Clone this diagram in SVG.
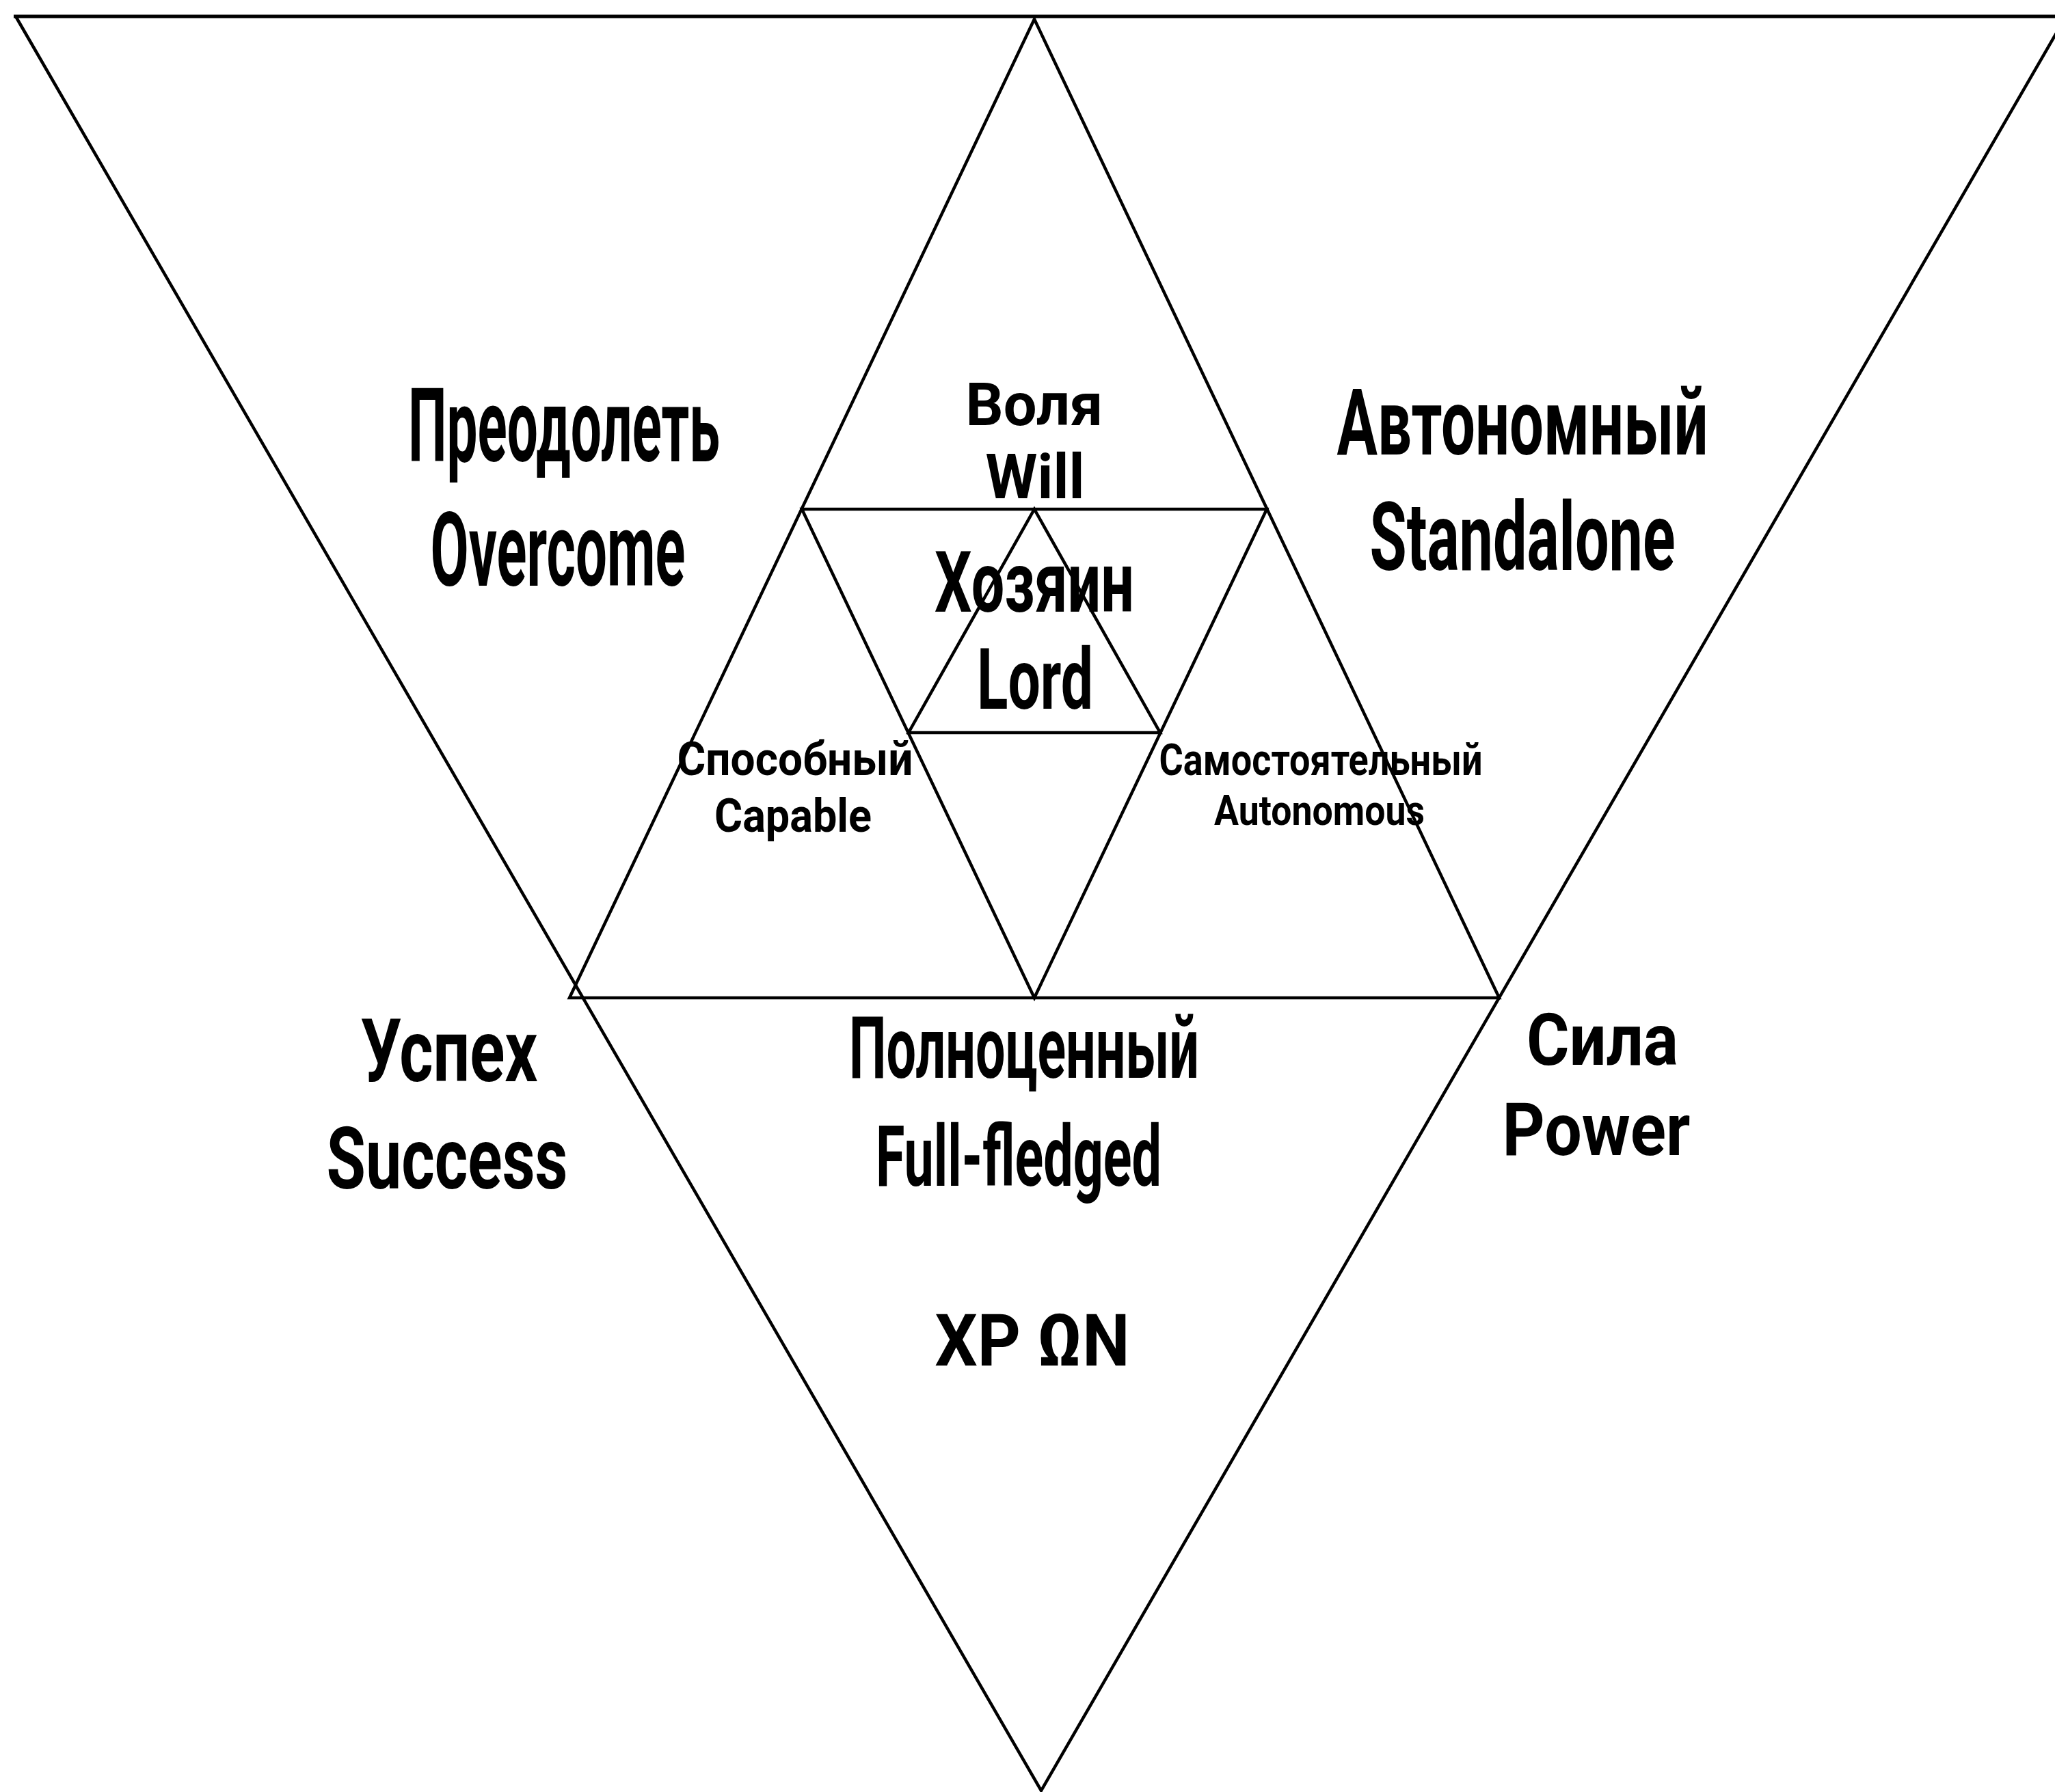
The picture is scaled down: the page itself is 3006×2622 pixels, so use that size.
<svg xmlns="http://www.w3.org/2000/svg" width="3006" height="2622" viewBox="0 0 3006 2622">
<style>
.ln{stroke:#000;stroke-width:4.5;fill:none;stroke-linejoin:miter}
.t{font-family:Roboto,"Liberation Sans","DejaVu Sans",sans-serif;font-weight:700;fill:#000;text-anchor:middle}
</style>
<rect width="3006" height="2622" fill="#fff"/>
<g id="lines">
<line class="ln" x1="20" y1="24" x2="3006" y2="24" style="stroke-width:5"/>
<polyline class="ln" points="23,24 1523,2620 3022,24"/>
<polygon class="ln" points="1513,28 2193,1460 833,1460"/>
<polygon class="ln" points="1173,745 1853,745 1513,1460"/>
<polygon class="ln" points="1513,745 1697,1072 1329,1072"/>
</g>
<g id="overcome">
<text class="t" x="825" y="675" font-size="150" textLength="456" lengthAdjust="spacingAndGlyphs">Преодолеть</text>
<text class="t" x="816" y="857" font-size="150" textLength="373" lengthAdjust="spacingAndGlyphs">Overcome</text>
</g>
<g id="will">
<text class="t" x="1513" y="622" font-size="88" textLength="201" lengthAdjust="spacingAndGlyphs">Воля</text>
<text class="t" x="1514" y="729" font-size="90" textLength="145" lengthAdjust="spacingAndGlyphs">Will</text>
</g>
<g id="standalone">
<text class="t" x="2227" y="665" font-size="135" textLength="543" lengthAdjust="spacingAndGlyphs">Автономный</text>
<text class="t" x="2227" y="834" font-size="140" textLength="447" lengthAdjust="spacingAndGlyphs">Standalone</text>
</g>
<g id="lord">
<text class="t" x="1513" y="895" font-size="125" textLength="292" lengthAdjust="spacingAndGlyphs">Хозяин</text>
<text class="t" x="1514" y="1037" font-size="125" textLength="170" lengthAdjust="spacingAndGlyphs">Lord</text>
</g>
<g id="capable">
<text class="t" x="1163" y="1134" font-size="68" textLength="345" lengthAdjust="spacingAndGlyphs">Способный</text>
<text class="t" x="1160" y="1217" font-size="68" textLength="230" lengthAdjust="spacingAndGlyphs">Capable</text>
</g>
<g id="autonomous">
<text class="t" x="1932" y="1134" font-size="64" textLength="473" lengthAdjust="spacingAndGlyphs">Самостоятельный</text>
<text class="t" x="1930" y="1207" font-size="62" textLength="308" lengthAdjust="spacingAndGlyphs">Autonomous</text>
</g>
<g id="success">
<text class="t" x="657" y="1582" font-size="128" textLength="259" lengthAdjust="spacingAndGlyphs">Успех</text>
<text class="t" x="654" y="1739" font-size="127" textLength="353" lengthAdjust="spacingAndGlyphs">Success</text>
</g>
<g id="fullfledged">
<text class="t" x="1498" y="1577" font-size="127" textLength="512" lengthAdjust="spacingAndGlyphs">Полноценный</text>
<text class="t" x="1490" y="1735" font-size="125" textLength="418" lengthAdjust="spacingAndGlyphs">Full-fledged</text>
</g>
<g id="power">
<text class="t" x="2344" y="1558" font-size="105" textLength="222" lengthAdjust="spacingAndGlyphs">Сила</text>
<text class="t" x="2335" y="1690" font-size="108" textLength="275" lengthAdjust="spacingAndGlyphs">Power</text>
</g>
<g id="xpon">
<text class="t" x="1510" y="1998" font-size="105" textLength="285" lengthAdjust="spacingAndGlyphs">XP ΩN</text>
</g>
</svg>
